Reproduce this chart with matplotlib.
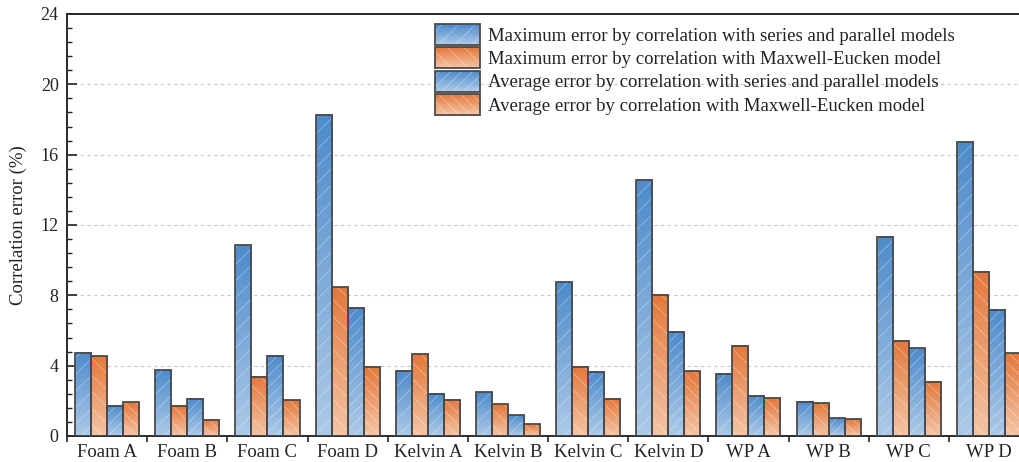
import matplotlib.pyplot as plt
import numpy as np
from matplotlib.colors import LinearSegmentedColormap
from matplotlib.legend_handler import HandlerBase
from matplotlib.patches import Rectangle
from matplotlib.ticker import FixedLocator, MultipleLocator

plt.rcParams["font.family"] = ["Liberation Serif", "DejaVu Serif"]
plt.rcParams["hatch.linewidth"] = 0.6

# --- Data ---
samples = ["Foam A", "Foam B", "Foam C", "Foam D", "Kelvin A", "Kelvin B",
           "Kelvin C", "Kelvin D", "WP A", "WP B", "WP C", "WP D"]
max_err_sp = [4.74, 3.75, 10.85, 18.28, 3.70, 2.48, 8.75, 14.58, 3.55, 1.95, 11.34, 16.71]
max_err_me = [4.53, 1.71, 3.38, 8.45, 4.64, 1.80, 3.94, 8.03, 5.14, 1.86, 5.41, 9.35]
avg_err_sp = [1.72, 2.12, 4.57, 7.29, 2.41, 1.19, 3.64, 5.93, 2.28, 1.00, 4.98, 7.19]
avg_err_me = [1.93, 0.93, 2.03, 3.94, 2.07, 0.68, 2.12, 3.68, 2.14, 0.95, 3.09, 4.70]
series_labels = [
    "Maximum error by correlation with series and parallel models",
    "Maximum error by correlation with Maxwell-Eucken model",
    "Average error by correlation with series and parallel models",
    "Average error by correlation with Maxwell-Eucken model",
]

# gradient (top colour, bottom colour) and hatch per series
BLUE = ("#4d8bcb", "#adcae8")
ORANGE = ("#e3783b", "#f4c5a6")
styles = [(BLUE, "//"), (ORANGE, "\\\\"), (BLUE, "///"), (ORANGE, "\\\\\\")]
EDGE = "#4a4a4a"
HATCH_COL = (1, 1, 1, 0.35)

fig = plt.figure(figsize=(10.19, 4.62), dpi=100)
ax = fig.add_axes([0.0658, 0.0563, 0.944, 0.9134])

x = np.arange(len(samples))
width = 0.2
offsets = [-0.3, -0.1, 0.1, 0.3]
grad = np.linspace(0, 1, 256).reshape(-1, 1)

for vals, off, ((top, bottom), hatch) in zip(
        [max_err_sp, max_err_me, avg_err_sp, avg_err_me], offsets, styles):
    cmap = LinearSegmentedColormap.from_list("g", [bottom, top])
    for xi, v in zip(x + off, vals):
        ax.imshow(grad, extent=[xi - width / 2, xi + width / 2, 0, v],
                  origin="lower", aspect="auto", cmap=cmap, zorder=2,
                  interpolation="bilinear")
    ax.bar(x + off, vals, width, facecolor="none", edgecolor=HATCH_COL,
           hatch=hatch, linewidth=0, zorder=3)
    ax.bar(x + off, vals, width, facecolor="none", edgecolor=EDGE,
           linewidth=1.3, zorder=4)


class GradientHandler(HandlerBase):
    def __init__(self, colors, hatch, n=24):
        super().__init__()
        self.colors = colors
        self.hatch = hatch
        self.n = n

    def create_artists(self, legend, orig_handle, xdescent, ydescent,
                       width, height, fontsize, trans):
        top, bottom = self.colors
        cmap = LinearSegmentedColormap.from_list("g", [bottom, top])
        x0, y0 = -xdescent, -ydescent
        h = height / self.n
        arts = []
        for i in range(self.n):
            arts.append(Rectangle((x0, y0 + i * h), width, h * 1.05,
                                  facecolor=cmap(i / (self.n - 1)),
                                  edgecolor="none", transform=trans))
        arts.append(Rectangle((x0, y0), width, height, facecolor="none",
                              edgecolor=HATCH_COL, hatch=self.hatch,
                              linewidth=0, transform=trans))
        arts.append(Rectangle((x0, y0), width, height, facecolor="none",
                              edgecolor=EDGE, linewidth=1.3, transform=trans))
        return arts


proxies = [Rectangle((0, 0), 1, 1) for _ in series_labels]
hmap = {p: GradientHandler(c, h) for p, (c, h) in zip(proxies, styles)}
leg = ax.legend(proxies, series_labels, handler_map=hmap, frameon=False,
                loc="upper left", bbox_to_anchor=(0.427, 0.948),
                bbox_transform=fig.transFigure, fontsize=13.5,
                handlelength=2.4, handleheight=1.35, labelspacing=0.12,
                handletextpad=0.42, borderaxespad=0, borderpad=0)
for t in leg.get_texts():
    t.set_color("#222222")

# --- Axes styling ---
ax.set_xlim(-0.5, len(samples) - 0.5)
ax.set_ylim(0, 24)
ax.set_yticks(np.arange(0, 25, 4))
ax.yaxis.set_minor_locator(MultipleLocator(0.8))
ax.set_xticks(x)
ax.set_xticklabels(samples)
ax.xaxis.set_minor_locator(FixedLocator(np.arange(-0.5, len(samples), 1.0)))

ax.tick_params(axis="y", which="major", direction="in", length=7, width=1.2,
               labelsize=13, pad=6, colors="#222222")
ax.tick_params(axis="y", which="minor", direction="in", length=3.5, width=1.0,
               colors="#222222")
ax.tick_params(axis="x", which="major", direction="in", length=4, width=1.2,
               labelsize=13.5, pad=6, colors="#222222")
ax.tick_params(axis="x", which="minor", direction="out", length=4, width=1.2,
               colors="#222222")

ax.set_ylabel("Correlation error (%)", fontsize=13.5, color="#222222", labelpad=10)

for s in ax.spines.values():
    s.set_linewidth(1.4)
    s.set_color("#2a2a2a")

for yv in [4, 8, 12, 16, 20]:
    ax.axhline(yv, color="#c8c8c8", linewidth=0.8, linestyle=(0, (3, 3)), zorder=1)

fig.savefig("out.png", dpi=100)
